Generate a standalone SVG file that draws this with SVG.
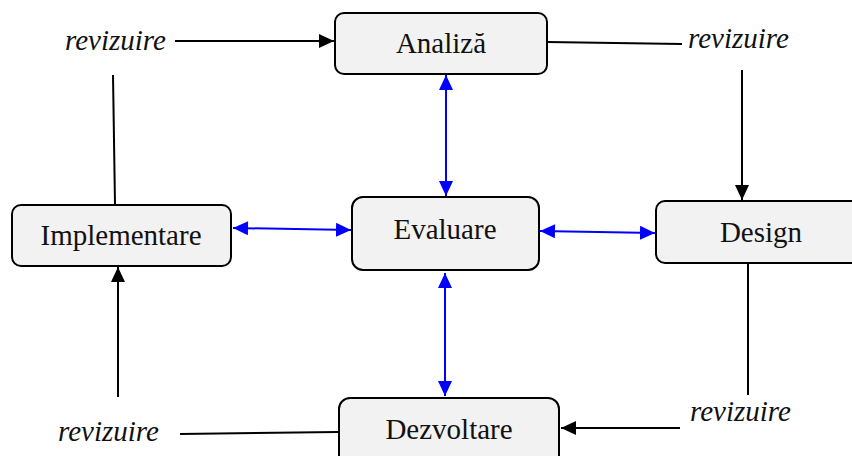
<svg xmlns="http://www.w3.org/2000/svg" width="852" height="456" viewBox="0 0 852 456">
<style>
.box{fill:#f2f2f2;stroke:#000;stroke-width:2}
.lbl{font-family:"Liberation Serif","Times New Roman",serif;font-size:29px;fill:#111;text-anchor:middle}
.rev{font-family:"Liberation Serif","Times New Roman",serif;font-size:29px;font-style:italic;fill:#111}
.k{stroke:#000;stroke-width:2;fill:none}
.b{stroke:#0000ff;stroke-width:2;fill:none}
</style>
<defs>
<marker id="ak" markerUnits="userSpaceOnUse" markerWidth="16" markerHeight="14" refX="15" refY="7" orient="auto"><path d="M0,0 L15,7 L0,14 Z" fill="#000"/></marker>
<marker id="abE" markerUnits="userSpaceOnUse" markerWidth="16" markerHeight="14" refX="15" refY="7" orient="auto"><path d="M0,0 L15,7 L0,14 Z" fill="#0000ff"/></marker>
<marker id="abS" markerUnits="userSpaceOnUse" markerWidth="16" markerHeight="14" refX="0" refY="7" orient="auto"><path d="M15,0 L0,7 L15,14 Z" fill="#0000ff"/></marker>
</defs>
<rect width="852" height="456" fill="#fff"/>
<g id="connectors">
<line class="k" x1="175" y1="41" x2="334" y2="41" marker-end="url(#ak)"/>
<line class="k" x1="115" y1="205" x2="113" y2="75"/>
<line class="k" x1="547" y1="42" x2="682" y2="44"/>
<line class="k" x1="742" y1="70" x2="742" y2="200" marker-end="url(#ak)"/>
<line class="k" x1="748" y1="263" x2="748" y2="395"/>
<line class="k" x1="680" y1="428" x2="561" y2="428" marker-end="url(#ak)"/>
<line class="k" x1="338" y1="432" x2="180" y2="434"/>
<line class="k" x1="118" y1="397" x2="118" y2="267" marker-end="url(#ak)"/>
<line class="b" x1="446" y1="75" x2="446" y2="196" marker-start="url(#abS)" marker-end="url(#abE)"/>
<line class="b" x1="445" y1="273" x2="445" y2="396" marker-start="url(#abS)" marker-end="url(#abE)"/>
<line class="b" x1="233" y1="228" x2="351" y2="230" marker-start="url(#abS)" marker-end="url(#abE)"/>
<line class="b" x1="540" y1="231" x2="655" y2="233" marker-start="url(#abS)" marker-end="url(#abE)"/>
</g>
<g id="analiza"><rect class="box" x="335" y="13" width="212" height="61" rx="9"/><text class="lbl" x="441" y="53">Analiză</text></g>
<g id="evaluare"><rect class="box" x="352" y="197" width="187" height="73" rx="11"/><text class="lbl" x="445" y="239">Evaluare</text></g>
<g id="implementare"><rect class="box" x="12" y="205" width="219" height="61" rx="9"/><text class="lbl" x="121" y="245">Implementare</text></g>
<g id="design"><rect class="box" x="656" y="201" width="210" height="62" rx="9"/><text class="lbl" x="761" y="242">Design</text></g>
<g id="dezvoltare"><rect class="box" x="339" y="398" width="220" height="70" rx="11"/><text class="lbl" x="449" y="439">Dezvoltare</text></g>
<g id="labels">
<text class="rev" x="65" y="50">revizuire</text>
<text class="rev" x="688" y="48">revizuire</text>
<text class="rev" x="58" y="441">revizuire</text>
<text class="rev" x="690" y="421">revizuire</text>
</g>
</svg>
